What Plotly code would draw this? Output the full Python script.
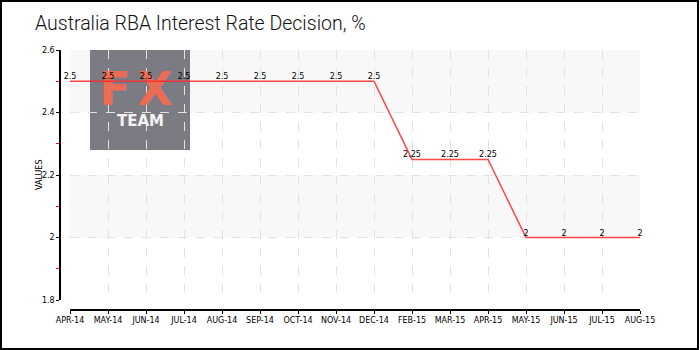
import plotly.graph_objects as go

months = ["APR-14", "MAY-14", "JUN-14", "JUL-14", "AUG-14", "SEP-14", "OCT-14", "NOV-14",
          "DEC-14", "FEB-15", "MAR-15", "APR-15", "MAY-15", "JUN-15", "JUL-15", "AUG-15"]
rates = [2.5, 2.5, 2.5, 2.5, 2.5, 2.5, 2.5, 2.5, 2.5, 2.25, 2.25, 2.25, 2, 2, 2, 2]
labels = ["2.5"] * 9 + ["2.25"] * 3 + ["2"] * 4
y_ticks = [1.8, 2.0, 2.2, 2.4, 2.6]
y_tick_text = ["1.8", "2", "2.2", "2.4", "2.6"]
bands = [(2.0, 2.2), (2.4, 2.6)]

W, H = 700, 350
ML, MR, MT, MB = 60, 60, 50, 40
pw, ph = W - ML - MR, H - MT - MB
font_small = "DejaVu Sans"
# plot-area pixel box
PX0, PX1, PY0, PY1 = 70, 640, 50, 300


def px(x):
    return (x - ML) / pw


def py(y):
    return 1 - (y - MT) / ph


def wx(x):  # watermark helper axis coords (0..1 over plot area)
    return (x - PX0) / (PX1 - PX0)


def wy(y):
    return (PY1 - y) / (PY1 - PY0)


fig = go.Figure()
# watermark text on the base (lower) subplot so the data trace is drawn above it
fig.add_trace(go.Scatter(
    x=[wx(115), wx(155)], y=[wy(93), wy(93)], mode="text", text=["F", "X"],
    textfont=dict(family="DejaVu Sans", size=46, color="rgba(250,105,80,0.9)", weight="bold"),
    textposition="middle center", hoverinfo="skip", showlegend=False, cliponaxis=False,
    xaxis="x", yaxis="y"))
fig.add_trace(go.Scatter(
    x=[wx(140.5)], y=[wy(122)], mode="text", text=["TEAM"],
    textfont=dict(family="DejaVu Sans", size=15, color="#f4f4f4", weight="bold"),
    textposition="middle center", hoverinfo="skip", showlegend=False, cliponaxis=False,
    xaxis="x", yaxis="y"))
# data
fig.add_trace(go.Scatter(
    x=months, y=rates, mode="lines+text", text=labels, textposition="top center",
    textfont=dict(family=font_small, size=8, color="#000"),
    line=dict(color="rgba(255,40,40,0.85)", width=1.5), hoverinfo="skip", showlegend=False,
    cliponaxis=False, xaxis="x2", yaxis="y2",
))

shapes = []
for lo, hi in bands:
    shapes.append(dict(type="rect", xref="x2 domain", yref="y2", x0=0, x1=1, y0=lo, y1=hi,
                       fillcolor="#f8f8f8", line=dict(width=0), layer="below"))
# watermark box
shapes.append(dict(type="rect", xref="paper", yref="paper",
                   x0=px(90), x1=px(190), y0=py(150), y1=1,
                   fillcolor="#7b7c83", line=dict(width=0), layer="below"))
# outer border
shapes.append(dict(type="rect", xref="paper", yref="paper",
                   x0=px(1), x1=px(698), y0=py(349), y1=py(1),
                   line=dict(color="#000", width=2), layer="above"))

annotations = [
    dict(text="VALUES", xref="paper", yref="paper", x=px(39), y=py(175),
         showarrow=False, textangle=-90, font=dict(family=font_small, size=8, color="#000"),
         xanchor="center", yanchor="middle"),
]

xdom = [10 / pw, 1]
ydom = [10 / ph, 1]
fig.update_layout(
    width=W, height=H, margin=dict(l=ML, r=MR, t=MT, b=MB),
    paper_bgcolor="white", plot_bgcolor="white",
    title=dict(text="Australia RBA Interest Rate Decision, %", x=35 / W, xanchor="left",
               y=1 - 23 / H, yanchor="middle",
               font=dict(family="Roboto", size=19.5, color="#111", weight=300)),
    shapes=shapes, annotations=annotations,
    xaxis=dict(domain=xdom, range=[0, 1], visible=False, showgrid=False, zeroline=False),
    yaxis=dict(domain=ydom, range=[0, 1], visible=False, showgrid=False, zeroline=False),
    xaxis2=dict(type="category", overlaying="x", anchor="free", position=0,
                range=[0, len(months) - 1], showline=True, linecolor="#000", linewidth=1.5,
                ticks="outside", ticklen=3, tickcolor="#000", showgrid=True,
                gridcolor="#e2e2e2", griddash="dash", gridwidth=1, zeroline=False,
                tickfont=dict(family=font_small, size=8, color="#000")),
    yaxis2=dict(overlaying="y", anchor="free", position=0, range=[1.8, 2.6],
                tickvals=y_ticks, ticktext=y_tick_text, showline=True, linecolor="#000",
                linewidth=1.5, ticks="outside", ticklen=3, tickcolor="#000",
                showgrid=True, gridcolor="#e2e2e2", griddash="dash", gridwidth=1, zeroline=False,
                tickfont=dict(family=font_small, size=8, color="#000"),
                minor=dict(tickvals=[1.9, 2.1, 2.3, 2.5], ticks="outside", ticklen=3,
                           tickcolor="red", showgrid=False)),
)

fig.write_html("out.html")
